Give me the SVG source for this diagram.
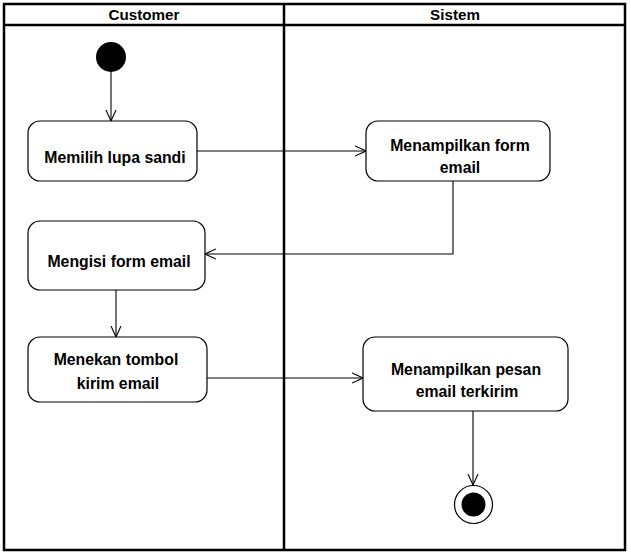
<svg xmlns="http://www.w3.org/2000/svg" width="631" height="557" viewBox="0 0 631 557">
<defs>
<style>
.frame{fill:none;stroke:#000;stroke-width:2.5}
.node rect{fill:#fff;stroke:#000;stroke-width:1.2}
.t{font-family:"Liberation Sans",Arial,sans-serif;font-weight:bold;font-size:15.8px;text-anchor:middle;fill:#000}
.h{font-size:15.2px}
.edge{fill:none;stroke:#000;stroke-width:1.1}
</style>
<marker id="arr" viewBox="0 0 12 12" refX="11" refY="6" markerWidth="12" markerHeight="12" markerUnits="userSpaceOnUse" orient="auto">
<path d="M0,1 L11,6 L0,11" fill="none" stroke="#000" stroke-width="1.1"/>
</marker>
</defs>
<rect width="631" height="557" fill="#fff"/>
<g id="lanes">
<rect class="frame" x="4" y="4" width="621" height="546"/>
<line class="frame" x1="4" y1="25" x2="625" y2="25"/>
<line class="frame" x1="284" y1="4" x2="284" y2="550"/>
<text class="t h" x="144" y="20">Customer</text>
<text class="t h" x="455" y="20">Sistem</text>
</g>
<g id="connectors">
<line class="edge" x1="111" y1="72" x2="111" y2="121" marker-end="url(#arr)"/>
<line class="edge" x1="197" y1="151" x2="366" y2="151" marker-end="url(#arr)"/>
<polyline class="edge" points="453,181 453,254 205,254" marker-end="url(#arr)"/>
<line class="edge" x1="116" y1="290" x2="116" y2="337" marker-end="url(#arr)"/>
<line class="edge" x1="207" y1="378" x2="363" y2="378" marker-end="url(#arr)"/>
<line class="edge" x1="473" y1="411" x2="473" y2="485" marker-end="url(#arr)"/>
</g>
<g id="start"><circle cx="111" cy="57" r="15" fill="#000"/></g>
<g id="n1" class="node"><rect x="28" y="121" width="169" height="60" rx="12"/><text class="t" x="115" y="163">Memilih lupa sandi</text></g>
<g id="n2" class="node"><rect x="366" y="121" width="184" height="60" rx="12"/><text class="t" x="460" y="151">Menampilkan form</text><text class="t" x="460" y="173">email</text></g>
<g id="n3" class="node"><rect x="28" y="221" width="177" height="69" rx="12"/><text class="t" x="119" y="267">Mengisi form email</text></g>
<g id="n4" class="node"><rect x="28" y="337" width="179" height="65" rx="12"/><text class="t" x="116" y="365">Menekan tombol</text><text class="t" x="118" y="389">kirim email</text></g>
<g id="n5" class="node"><rect x="363" y="337" width="205" height="74" rx="12"/><text class="t" x="466" y="375">Menampilkan pesan</text><text class="t" x="467" y="397">email terkirim</text></g>
<g id="end"><circle cx="473.5" cy="504.5" r="19" fill="#fff" stroke="#000" stroke-width="1.2"/><circle cx="473.5" cy="504.5" r="12" fill="#000"/></g>
</svg>
